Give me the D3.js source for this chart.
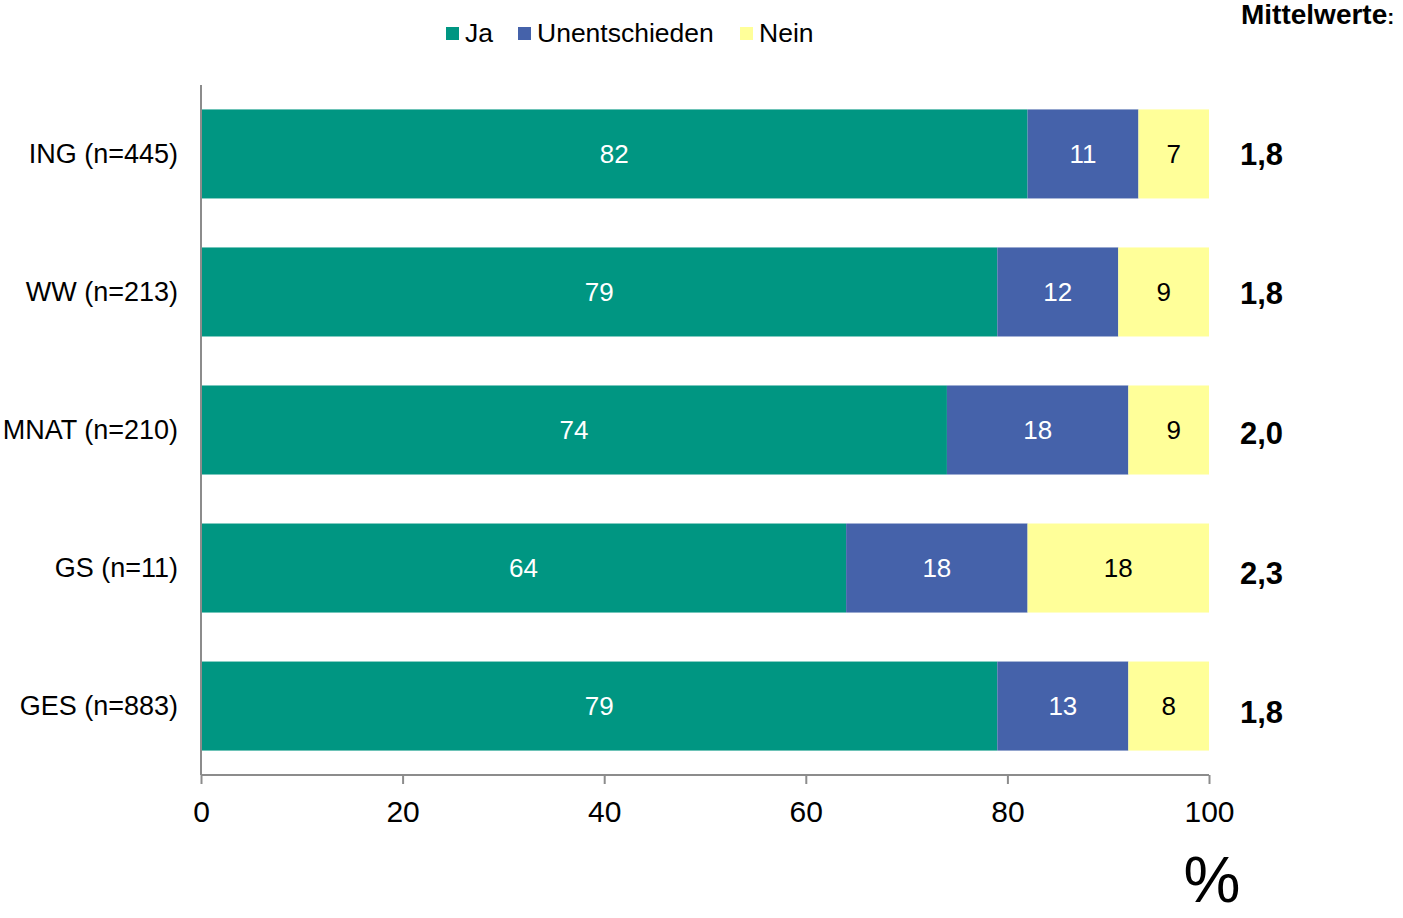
<!DOCTYPE html>
<html><head><meta charset="utf-8">
<script src="https://cdn.jsdelivr.net/npm/d3@7"></script>
<style>body{margin:0;background:#fff}svg{display:block;font-family:"Liberation Sans",Arial,sans-serif}</style>
</head><body>
<script>
const categories = ["ING (n=445)", "WW (n=213)", "MNAT (n=210)", "GS (n=11)", "GES (n=883)"];
const seriesNames = ["Ja", "Unentschieden", "Nein"];
const ja = [82, 79, 74, 64, 79];
const unentschieden = [11, 12, 18, 18, 13];
const nein = [7, 9, 9, 18, 8];
const means = ["1,8", "1,8", "2,0", "2,3", "1,8"];
const xTicks = [0, 20, 40, 60, 80, 100];
const colors = ["#009682", "#4562AA", "#FFFF99"];
const labelColors = ["#ffffff", "#ffffff", "#000000"];

const W = 1403, H = 918;
const svg = d3.select("body").append("svg").attr("width", W).attr("height", H);

const x = d3.scaleLinear().domain([0, 100]).range([201, 1209]).clamp(true);
const xu = x.copy().clamp(false);
const y = d3.scaleBand().domain(categories).range([85, 775]).paddingInner(0.355).paddingOuter(0.177);

const series = [ja, unentschieden, nein];
const rows = categories.map((c, i) => {
  let acc = 0;
  return series.map((s, k) => { const seg = {cat: c, k, v: s[i], x0: acc, x1: acc + s[i]}; acc += s[i]; return seg; });
});

const g = svg.append("g");
rows.forEach(r => {
  r.forEach(seg => {
    g.append("rect")
      .attr("x", x(seg.x0)).attr("y", y(seg.cat))
      .attr("width", x(seg.x1) - x(seg.x0)).attr("height", y.bandwidth())
      .attr("fill", colors[seg.k]);
    g.append("text")
      .attr("x", (xu(seg.x0) + xu(seg.x1)) / 2)
      .attr("y", y(seg.cat) + y.bandwidth() / 2 + 9)
      .attr("text-anchor", "middle").attr("font-size", 26)
      .attr("fill", labelColors[seg.k]).text(seg.v);
  });
});

// axes
const ax = svg.append("g").attr("transform", "translate(0,775)")
  .call(d3.axisBottom(x).tickValues(xTicks).tickSize(9).tickPadding(17));
ax.select(".domain").attr("stroke", "#8c8c8c").attr("stroke-width", 2).attr("d", "M201,0H1209");
ax.selectAll(".tick line").attr("stroke", "#8c8c8c").attr("stroke-width", 2);
ax.selectAll(".tick text").attr("font-size", 30).attr("fill", "#000").attr("font-family", "Liberation Sans, Arial, sans-serif");

svg.append("line").attr("x1", 201).attr("x2", 201).attr("y1", 85).attr("y2", 775)
  .attr("stroke", "#8c8c8c").attr("stroke-width", 2);

// category labels
svg.append("g").selectAll("text").data(categories).join("text")
  .attr("x", 178).attr("y", d => y(d) + y.bandwidth() / 2 + 9)
  .attr("text-anchor", "end").attr("font-size", 27).attr("fill", "#000").text(d => d);

// means
svg.append("g").selectAll("text").data(means).join("text")
  .attr("x", 1240).attr("y", (d, i) => y(categories[i]) + y.bandwidth() / 2 + 11 + i * 1.5)
  .attr("font-size", 31).attr("font-weight", "bold").attr("fill", "#000").text(d => d);

// Mittelwerte title
const mt = svg.append("text").attr("x", 1241).attr("y", 24).attr("font-size", 28).attr("font-weight", "bold");
mt.append("tspan").text("Mittelwerte");
mt.append("tspan").attr("font-size", 21).text(":");

// percent sign
svg.append("text").attr("x", 1212).attr("y", 902).attr("text-anchor", "middle")
  .attr("font-size", 64).attr("fill", "#000").text("%");

// legend
const legendPos = [446, 518, 740];
const lg = svg.append("g");
seriesNames.forEach((n, k) => {
  lg.append("rect").attr("x", legendPos[k]).attr("y", 27).attr("width", 13).attr("height", 13).attr("fill", colors[k]);
  lg.append("text").attr("x", legendPos[k] + 19).attr("y", 42).attr("font-size", 26.5).attr("fill", "#000").text(n);
});
</script>
</body></html>
